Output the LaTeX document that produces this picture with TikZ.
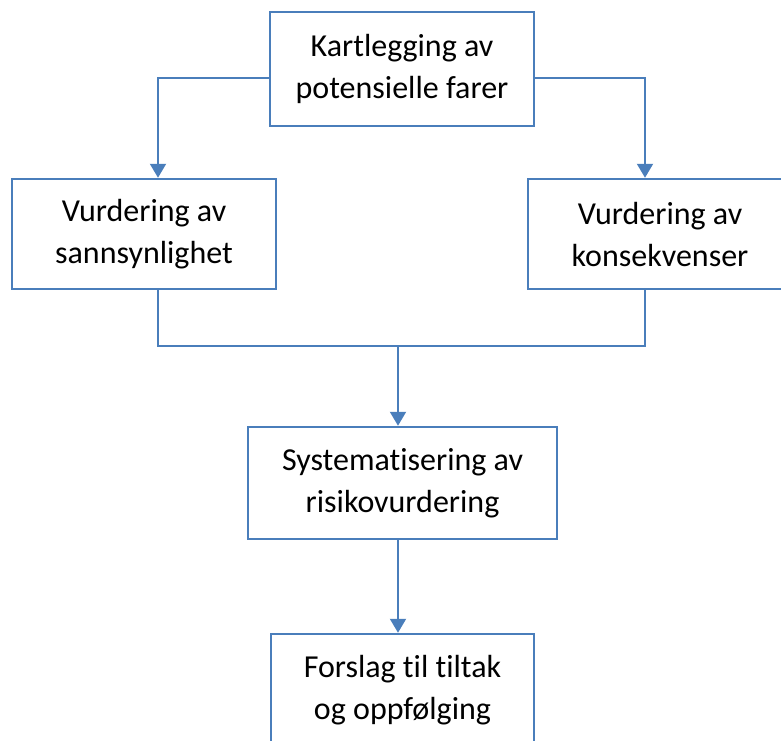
\documentclass[tikz,border=0pt]{standalone}
\usepackage{fontspec}
\setmainfont{Carlito}[Ligatures={NoCommon}]
\usetikzlibrary{arrows.meta}
\definecolor{boxblue}{RGB}{74,126,187}
\tikzset{
    stepbox/.style={draw=boxblue, line width=2.5pt, align=center,
        inner sep=0pt, font=\fontsize{32}{42}\selectfont},
    conn/.style={draw=boxblue, line width=2pt},
    arr/.style={conn, -{Triangle[width=16pt,length=14pt]}}
}
\begin{document}
\begin{tikzpicture}[x=1pt, y=-1pt]
    \useasboundingbox (0,0) rectangle (781,740);
    % boxes, one pixel of the reference = 1pt
    \node[stepbox, minimum width=264pt, minimum height=114pt] (kart) at (402,69)
        {Kartlegging av\\potensielle farer};
    \node[stepbox, minimum width=264pt, minimum height=110pt] (sann) at (144,234)
        {Vurdering av\\sannsynlighet};
    \node[stepbox, minimum width=264pt, minimum height=110pt] (kons) at (660,234)
        {Vurdering av\\konsekvenser};
    \node[stepbox, minimum width=309pt, minimum height=112pt] (sys) at (402.5,483)
        {Systematisering av\\risikovurdering};
    \node[stepbox, minimum width=263pt, minimum height=112pt] (fors) at (402.5,690)
        {Forslag til tiltak\\og oppfølging};

    % split from the top box
    \draw[arr] ([yshift=-9pt]kart.west) -| ([xshift=14pt]sann.north);
    \draw[arr] ([yshift=-9pt]kart.east) -| ([xshift=-15pt]kons.north);

    % join below the two assessments
    \coordinate (join) at (398,346);
    \draw[conn] ([xshift=14pt]sann.south) |- (join) -| ([xshift=-15pt]kons.south);
    \draw[arr] (join) -- (join |- sys.north);
    \draw[arr] (join |- sys.south) -- (join |- fors.north);
\end{tikzpicture}
\end{document}
